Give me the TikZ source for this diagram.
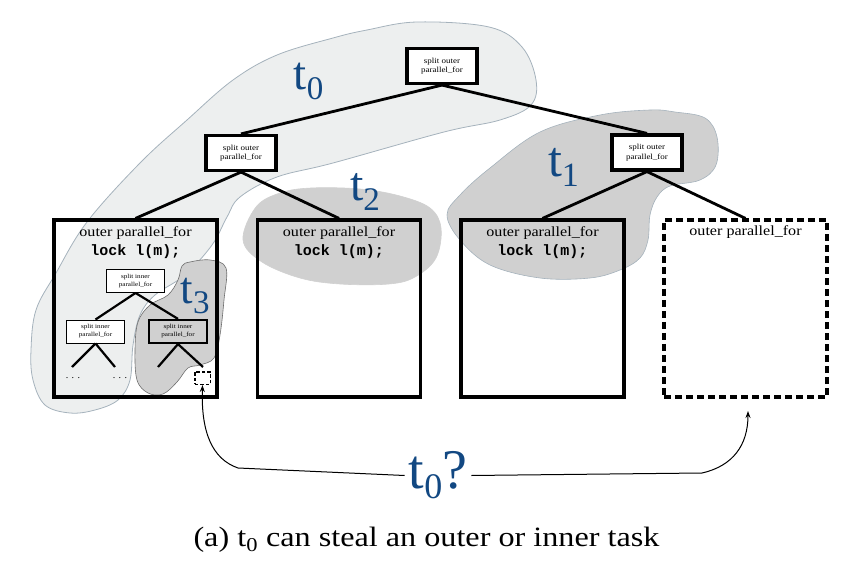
\documentclass[tikz,border=0pt]{standalone}
\usepackage{fontspec}
\usepackage{graphicx}
\setmainfont{Liberation Serif}
\newfontfamily\wideserif[FakeStretch=1.15]{Liberation Serif}
\newfontfamily\codefont{Liberation Mono}
\usetikzlibrary{arrows.meta}
\definecolor{tblue}{RGB}{18,72,130}
\definecolor{bandfill}{RGB}{237,239,239}
\definecolor{bandline}{RGB}{165,178,188}
\definecolor{blobfill}{RGB}{208,208,208}
\definecolor{blobline}{RGB}{110,110,110}
\newcommand{\tlab}[3]{\fontsize{#1}{#1}\selectfont t\raisebox{-10pt}{\fontsize{#2}{#2}\selectfont #3}}
\begin{document}
\begin{tikzpicture}[x=1pt,y=-1pt,
  splitbox/.style={draw, line width=3.2pt, fill=white, minimum width=70pt, minimum height=35pt, inner sep=0pt, align=center, font=\wideserif\fontsize{7.8}{9.5}\selectfont},
  innerbox/.style={draw, line width=0.9pt, fill=white, minimum width=58pt, minimum height=23pt, inner sep=0pt, align=center, font=\wideserif\fontsize{6.2}{8}\selectfont},
  bigbox/.style={draw, line width=3.2pt, minimum width=163pt, minimum height=177pt, inner sep=0pt},
  edge/.style={line width=2.8pt},
  thinedge/.style={line width=2.2pt},
  outertxt/.style={font=\wideserif\fontsize{14}{14}\selectfont, inner sep=0pt},
  locktxt/.style={font=\codefont\bfseries\fontsize{15}{15}\selectfont, inner sep=0pt},
  tname/.style={text=tblue, inner sep=0pt},
  band/.style={fill=bandfill, draw=bandline, line width=0.8pt},
  blob/.style={fill=blobfill, draw=bandline, line width=0.6pt},
  steal/.style={line width=1pt, -{Stealth[length=7pt,width=5pt]}},
]
\useasboundingbox (0,0) rectangle (862,569);

% task regions
\draw[band] plot[smooth cycle, tension=0.6] coordinates {
  (417,22) (489,27) (522,47) (536,80) (531,105) (500,120) (444,132)
  (333,163) (277,177) (240,197) (227,217) (212,245) (185,275) (155,295)
  (140,315) (133,345) (130,380) (118,400) (95,410) (70,413) (45,405)
  (33,380) (31,350) (36,310) (56,273) (87,222) (140,163) (187,120)
  (233,80) (277,55) (333,38) (367,30)};
\draw[blob, draw=blobfill] plot[smooth cycle, tension=0.6] coordinates {
  (256,207) (280,193) (311,188) (360,189) (400,196) (430,208) (441,228)
  (436,258) (415,277) (389,284) (340,284) (300,278) (262,262) (243,240)};
\draw[blob] plot[smooth cycle, tension=0.6] coordinates {
  (657,197) (650,215) (648,240) (640,258) (620,270) (590,278) (540,278)
  (490,265) (460,240) (447,215) (460,195) (490,168) (540,132) (600,115)
  (650,110) (675,112) (705,118) (717,137) (716,165) (700,180) (670,186)};
\draw[blob, draw=blobline] plot[smooth cycle, tension=0.6] coordinates {
  (190,262) (210,260) (226,268) (224,300) (220,335) (214,358) (200,365)
  (188,368) (177,382) (163,394) (148,393) (137,380) (135,350) (138,322)
  (150,305) (168,295) (178,280) (182,266)};

% outer tree
\node[splitbox] (top) at (442,66) {split outer\\parallel\_for};
\node[splitbox] (midL) at (241,153) {split outer\\parallel\_for};
\node[splitbox] (midR) at (647,152.5) {split outer\\parallel\_for};
\node[bigbox] (b1) at (135.5,308.5) {};
\node[bigbox] (b2) at (339,308.5) {};
\node[bigbox] (b3) at (542.5,308.5) {};
\node[bigbox, dash pattern=on 7pt off 4pt] (b4) at (745.5,308.5) {};
\draw[edge] (top.south) -- (midL.north);
\draw[edge] (top.south) -- (midR.north);
\draw[edge] (midL.south) -- (b1.north);
\draw[edge] (midL.south) -- (b2.north);
\draw[edge] (midR.south) -- (b3.north);
\draw[edge] (midR.south) -- (b4.north);

% box texts
\node[outertxt] (o1) at (135.5,233) {outer parallel\_for};
\node[locktxt] (k1) at (135.5,252) {lock l(m);};
\node[outertxt] (o2) at (339,233) {outer parallel\_for};
\node[locktxt] (k2) at (339,252) {lock l(m);};
\node[outertxt] (o3) at (542.5,233) {outer parallel\_for};
\node[locktxt] (k3) at (542.5,252) {lock l(m);};
\node[outertxt] (o4) at (745.5,232) {outer parallel\_for};

% inner tree
\node[innerbox] (it1) at (135.5,281) {split inner\\parallel\_for};
\node[innerbox] (it2) at (95.5,331.5) {split inner\\parallel\_for};
\node[innerbox, fill=none, line width=2.2pt] (it3) at (178,331.5) {split inner\\parallel\_for};
\node[draw, line width=1.5pt, dash pattern=on 3.5pt off 2pt, minimum width=15.5pt, minimum height=12.5pt, inner sep=0pt] (sd) at (202.5,378) {};
\coordinate (l1) at (72,367);
\coordinate (l2) at (115,367);
\coordinate (l3) at (158,367);
\coordinate (l4) at (203,367);
\draw[thinedge] (it1.south) -- (it2.north);
\draw[thinedge] (it1.south) -- (it3.north);
\draw[thinedge] (it2.south) -- (l1);
\draw[thinedge] (it2.south) -- (l2);
\draw[thinedge] (it3.south) -- (l3);
\draw[thinedge] (it3.south) -- (l4);
\node[font=\fontsize{10}{10}\selectfont, inner sep=0pt] (d1) at (73,378) {. . .};
\node[font=\fontsize{10}{10}\selectfont, inner sep=0pt] (d2) at (120,378) {. . .};

% labels
\node[tname] (t0) at (308.5,81) {\tlab{47}{33}{0}};
\node[tname] (t1) at (563.5,167.5) {\tlab{50}{34}{1}};
\node[tname] (t2) at (365,192) {\tlab{48}{33}{2}};
\node[tname] (t3) at (195,296) {\tlab{45}{33}{3}};
\node[tname, inner xsep=4pt] (q) at (438,475.5) {\tlab{56}{36}{0}?};

% steal arrows
\coordinate (b4arrow) at (748,411);
\draw[steal] (q.west) -- (238,468) .. controls (212,459) and (201,432) .. (sd.south);
\draw[steal] (q.east) -- (702,473) .. controls (733,466) and (748,445) .. (b4arrow);

% caption
\node[font=\wideserif\fontsize{28}{28}\selectfont, inner sep=0pt] (cap) at (426.5,540) {(a) t\textsubscript{0} can steal an outer or inner task};
\end{tikzpicture}
\end{document}
